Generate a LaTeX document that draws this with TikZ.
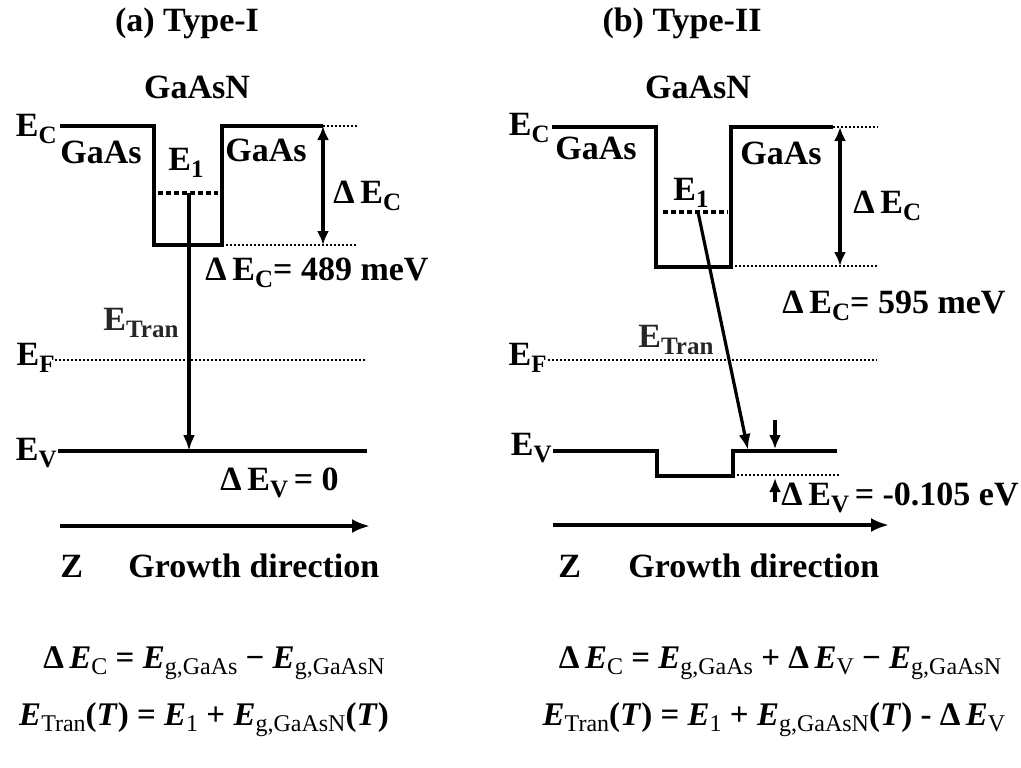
\documentclass[tikz,border=0pt]{standalone}
\usepackage{fontspec}
\setmainfont{Liberation Serif}
\usetikzlibrary{arrows.meta,positioning}
\newcommand{\eqE}{\textbf{\textit{E}}}
\newcommand{\eqT}{\textbf{\textit{T}}}
\newcommand{\lowsub}[1]{\raisebox{-3.6pt}{\fontsize{12.5}{12}\selectfont #1}}
\newcommand{\eqsub}[1]{\raisebox{-3.4pt}{\mdseries\fontsize{12}{12}\selectfont #1}}
\tikzset{
  band/.style={line width=2.2pt, line join=miter},
  refline/.style={line width=1pt, dash pattern=on 1pt off 1pt},
  levelline/.style={line width=1.8pt, dash pattern=on 2.5pt off 1.5pt},
  trans/.style={-{Latex[length=8pt,width=6pt]}, line width=1.6pt},
  small/.style={-{Latex[length=7pt,width=6pt]}, line width=1.6pt},
  gap/.style={{Latex[length=7pt,width=6pt]}-{Latex[length=7pt,width=6pt]}, line width=1.6pt},
  axis/.style={-{Latex[length=9pt,width=7pt]}, line width=2pt},
  lbl/.style={font=\bfseries\fontsize{17}{19}\selectfont, inner sep=0pt},
  eqn/.style={font=\bfseries\fontsize{16.5}{19}\selectfont, inner sep=0pt}
}
\begin{document}
\begin{tikzpicture}[x=0.5pt,y=-0.5pt]
\useasboundingbox (0,0) rectangle (1021,767);

% (a) Type-I
\node[lbl] (atitle) at (187,23) {(a) Type-I};
\node[lbl] (awell) at (197,87) {GaAsN};
\node[lbl, anchor=base east] (aEC) at (57,136) {E\lowsub{C}};
\node[lbl] (aleft) at (101,152) {GaAs};
\node[lbl] (aright) at (266,150) {GaAs};
\node[lbl, anchor=base west] (aE1lbl) at (168,170) {E\lowsub{1}};
\node[lbl, anchor=base west] (adEC) at (333,203) {Δ\,E\lowsub{C}};
\node[lbl, anchor=base west] (adECval) at (205,280) {Δ\,E\lowsub{C}= 489 meV};
\node[lbl, anchor=base west, text=black!85] (atran) at (103,330) {E\lowsub{Tran}};
\node[lbl, anchor=base east] (aEF) at (55,365) {E\lowsub{F}};
\node[lbl, anchor=base east] (aEV) at (57,460) {E\lowsub{V}};
\node[lbl, anchor=base west] (adEV) at (220,490) {Δ\,E\lowsub{V}\,= 0};
\node[lbl, anchor=base west] (az) at (60,577) {Z};
\node[lbl, anchor=base west] (agrowth) at (128,577) {Growth direction};

\draw[band] (60,126) -- (154,126) -- (154,245) -- (222,245) -- (222,126) -- (323,126);
\draw[refline] (323,126) -- (357,126);
\draw[refline] (222,245) -- (357,245);
\coordinate (actop) at (323,126);
\coordinate (acbot) at (323,245);
\draw[gap] (actop) -- (acbot);
\draw[levelline] (158,193) -- (218,193);
\coordinate (ae1) at (189,193);
\coordinate (aev) at (189,451);
\draw[trans] (ae1) -- (aev);
\draw[refline] (55,360) -- (367,360);
\draw[band] (58,451) -- (367,451);
\coordinate (az0) at (60,526);
\coordinate (az1) at (370,526);
\draw[axis] (az0) -- (az1);

% (b) Type-II
\node[lbl] (btitle) at (682,23) {(b) Type-II};
\node[lbl] (bwell) at (698,87) {GaAsN};
\node[lbl, anchor=base east] (bEC) at (550,135) {E\lowsub{C}};
\node[lbl] (bleft) at (596,148) {GaAs};
\node[lbl] (bright) at (781,153) {GaAs};
\node[lbl, anchor=base west] (bE1lbl) at (673,200) {E\lowsub{1}};
\node[lbl, anchor=base west] (bdEC) at (853,213) {Δ\,E\lowsub{C}};
\node[lbl, anchor=base west] (bdECval) at (782,313) {Δ\,E\lowsub{C}= 595 meV};
\node[lbl, anchor=base west, text=black!85] (btran) at (638,347) {E\lowsub{Tran}};
\node[lbl, anchor=base east] (bEF) at (547,365) {E\lowsub{F}};
\node[lbl, anchor=base east] (bEV) at (552,455) {E\lowsub{V}};
\node[lbl, anchor=base west] (bdEV) at (781,505) {Δ\,E\lowsub{V}\,= -0.105 eV};
\node[lbl, anchor=base west] (bz) at (558,577) {Z};
\node[lbl, anchor=base west] (bgrowth) at (628,577) {Growth direction};

\draw[band] (552,127) -- (656,127) -- (656,267) -- (731,267) -- (731,127) -- (833,127);
\draw[refline] (833,127) -- (878,127);
\draw[refline] (731,266) -- (878,266);
\coordinate (bctop) at (840,127);
\coordinate (bcbot) at (840,266);
\draw[gap] (bctop) -- (bcbot);
\draw[levelline] (663,212) -- (728,212);
\coordinate (be1) at (698,212);
\coordinate (bev) at (748,450);
\draw[trans] (be1) -- (bev);
\draw[refline] (548,360) -- (877,360);
\draw[band] (553,451) -- (657,451) -- (657,476) -- (733,476) -- (733,451) -- (837,451);
\draw[refline] (733,475) -- (840,475);
\coordinate (bvtop0) at (775,420);
\coordinate (bvtop1) at (775,449);
\coordinate (bvbot0) at (775,502);
\coordinate (bvbot1) at (775,478);
\draw[small] (bvtop0) -- (bvtop1);
\draw[small] (bvbot0) -- (bvbot1);
\coordinate (bz0) at (553,525);
\coordinate (bz1) at (889,525);
\draw[axis] (bz0) -- (bz1);

% equations
\node[eqn, anchor=base] (aeq1) at (214,668)
  {Δ\,\eqE\eqsub{C} = \eqE\eqsub{g,GaAs} − \eqE\eqsub{g,GaAsN}};
\node[eqn, anchor=base] (aeq2) at (204,725)
  {\eqE\eqsub{Tran}(\eqT) = \eqE\eqsub{1} + \eqE\eqsub{g,GaAsN}(\eqT)};
\node[eqn, anchor=base] (beq1) at (780,668)
  {Δ\,\eqE\eqsub{C} = \eqE\eqsub{g,GaAs} + Δ\,\eqE\eqsub{V} − \eqE\eqsub{g,GaAsN}};
\node[eqn, anchor=base] (beq2) at (774,725)
  {\eqE\eqsub{Tran}(\eqT) = \eqE\eqsub{1} + \eqE\eqsub{g,GaAsN}(\eqT) - Δ\,\eqE\eqsub{V}};
\end{tikzpicture}
\end{document}
